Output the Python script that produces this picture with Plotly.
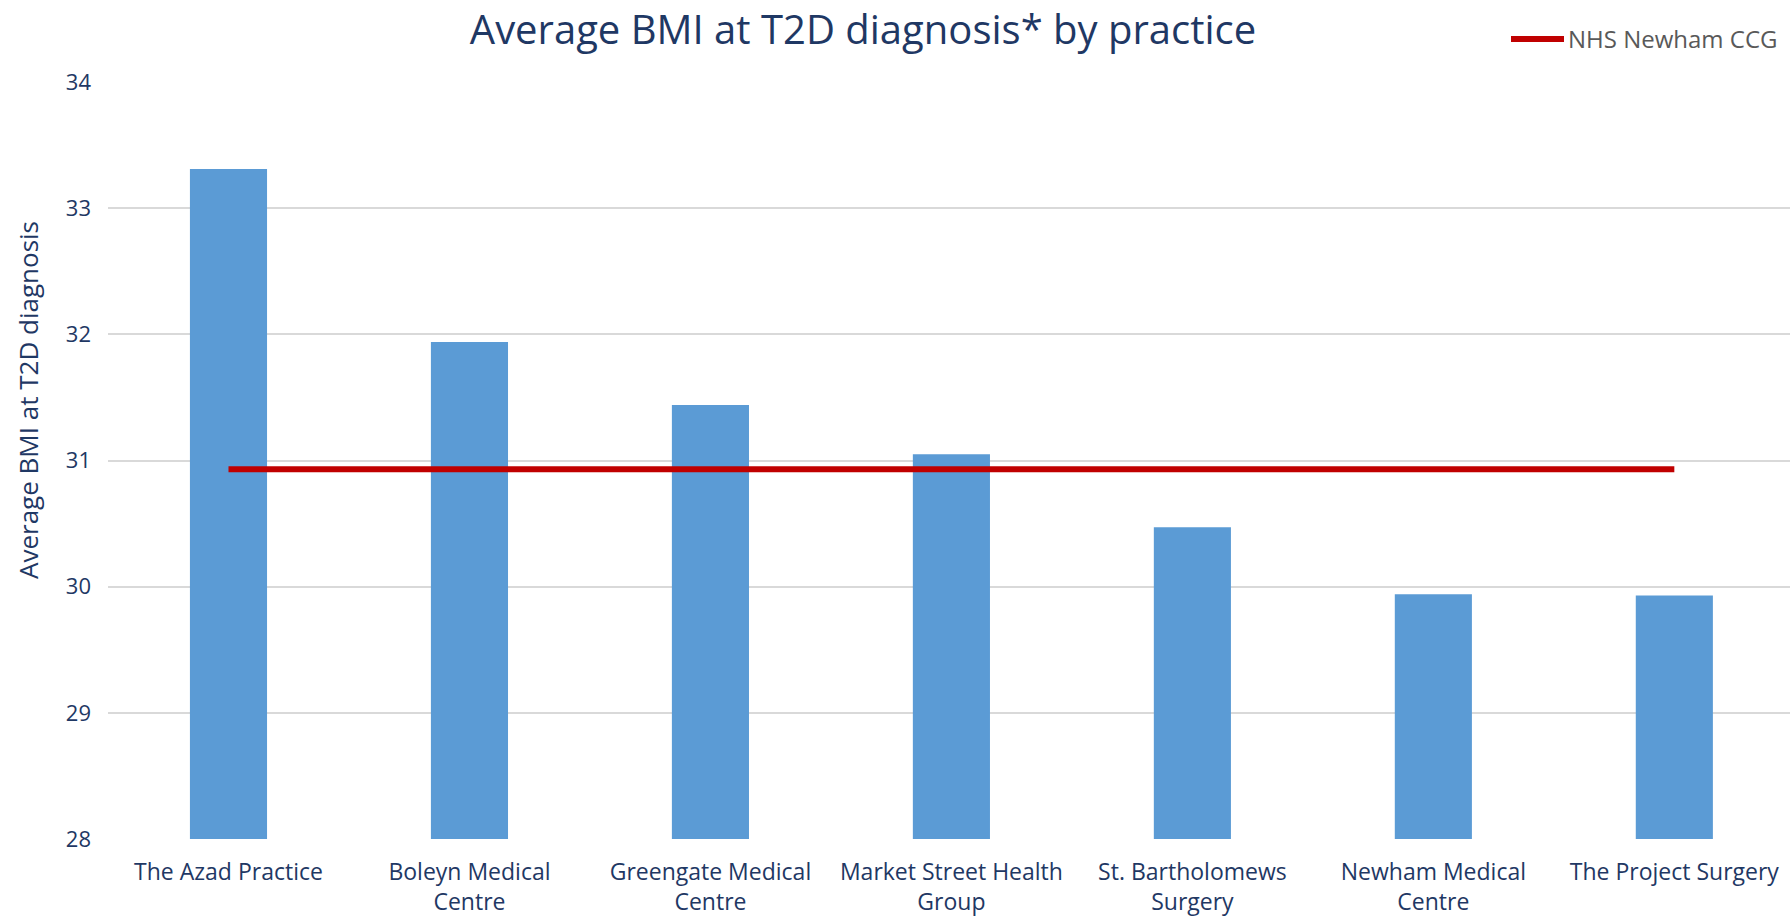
import plotly.graph_objects as go

# Practices and their average BMI at type 2 diabetes diagnosis
practices = [
    "The Azad Practice",
    "Boleyn Medical<br>Centre",
    "Greengate Medical<br>Centre",
    "Market Street Health<br>Group",
    "St. Bartholomews<br>Surgery",
    "Newham Medical<br>Centre",
    "The Project Surgery",
]
avg_bmi = [33.31, 31.94, 31.44, 31.05, 30.47, 29.94, 29.93]

# CCG-wide average, shown as a reference line across all practices
ccg_name = "NHS Newham CCG"
ccg_bmi = [30.93] * len(practices)

y_ticks = [28, 29, 30, 31, 32, 33, 34]

NAVY = "#1F3864"
BAR_BLUE = "#5B9BD5"
RED = "#C00000"
GRID = "#D9D9D9"
SANS = "Open Sans, Noto Sans, sans-serif"

W, H = 1790, 919
L, R, T, B = 108, 0, 82, 80
PW = W - L - R
PH = H - T - B


def px_x(px):
    """Horizontal pixel position -> paper fraction."""
    return (px - L) / PW


def px_y(px):
    """Vertical pixel position (from top) -> paper fraction."""
    return (H - B - px) / PH


fig = go.Figure()
fig.add_trace(go.Bar(
    x=practices, y=avg_bmi, marker=dict(color=BAR_BLUE, line=dict(width=0)),
    showlegend=False, hoverinfo="x+y",
))
fig.add_trace(go.Scatter(
    x=practices, y=ccg_bmi, mode="lines", name=ccg_name,
    line=dict(color=RED, width=6), showlegend=False,
))

# Legend key for the CCG line, placed at the top right
legend_y = px_y(39)
fig.add_shape(
    type="line", xref="paper", yref="paper",
    x0=px_x(1511), x1=px_x(1564), y0=legend_y, y1=legend_y,
    line=dict(color=RED, width=6),
)

fig.update_layout(
    width=W, height=H,
    margin=dict(l=L, r=R, t=T, b=B, autoexpand=False),
    paper_bgcolor="white", plot_bgcolor="white",
    bargap=0.68,
    showlegend=False,
    title=dict(
        text="Average BMI at T2D diagnosis* by practice",
        font=dict(family=SANS, size=40, color=NAVY),
        x=px_x(863), xref="paper", xanchor="center",
        y=1 - 30 / H, yref="container", yanchor="middle",
    ),
    xaxis=dict(
        range=[-0.5, 6.48],
        tickfont=dict(family=SANS, size=23, color=NAVY),
        tickangle=0, automargin=False,
        showgrid=False, showline=False, ticks="", ticklabelstandoff=17,
    ),
    yaxis=dict(
        range=[28, 34], tickvals=y_ticks, automargin=False,
        tickfont=dict(family=SANS, size=22, color=NAVY),
        showgrid=True, gridcolor=GRID, gridwidth=2,
        zeroline=False, showline=False, ticks="", ticklabelstandoff=16,
    ),
    annotations=[
        dict(
            text="Average BMI at T2D diagnosis", textangle=-90,
            xref="paper", yref="paper",
            x=px_x(28), y=px_y(400),
            xanchor="center", yanchor="middle", showarrow=False,
            font=dict(family=SANS, size=26, color=NAVY),
        ),
        dict(
            text=ccg_name, xref="paper", yref="paper",
            x=px_x(1566), y=legend_y, xanchor="left", yanchor="middle",
            showarrow=False,
            font=dict(family=SANS, size=24, color="#595959"),
        ),
    ],
)

fig.write_html("out.html")
